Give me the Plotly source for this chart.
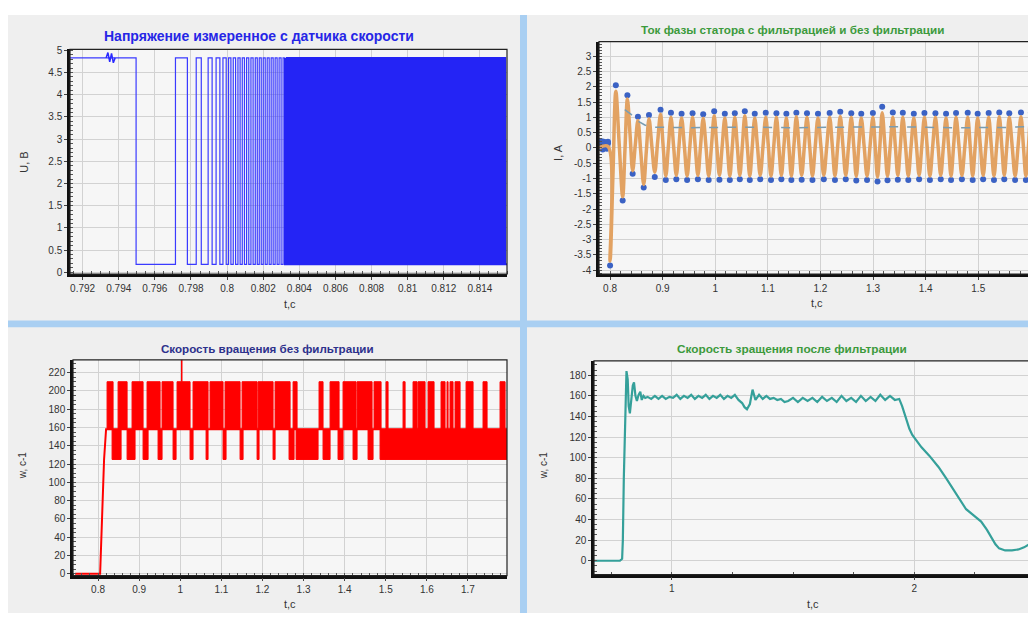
import plotly.graph_objects as go

# The page body has an 8px margin, so the figure is placed at (8, 8) in the window.
OFF = 8
FIG_W, FIG_H = 1036 - OFF, 617 - OFF


def fx(px):
    return (px - OFF) / FIG_W


def fy(py):
    return 1 - (py - OFF) / FIG_H


# ---------------- Panel 1: voltage from speed sensor ----------------
u_high = 4.83
u_low = 0.18
u_t_start = 0.7913
u_t_end = 0.8155
u_dense_from = 0.8032
u_edges = [
    0.79496, 0.79714, 0.79780, 0.79829, 0.79857, 0.79895, 0.79917, 0.79939, 0.79960, 0.79977,
    0.79995, 0.80008, 0.80021, 0.80034, 0.80047, 0.80060, 0.80072, 0.80084, 0.80096, 0.80108,
    0.80120, 0.80132, 0.80144, 0.80156, 0.80167, 0.80178, 0.80189, 0.80200, 0.80211, 0.80222,
    0.80233, 0.80244, 0.80255, 0.80266, 0.80277, 0.80288, 0.80299, 0.80310, 0.80320,
    0.8033, 0.8034, 0.8035, 0.8036, 0.8037, 0.8038, 0.8039,
    0.8040, 0.8041, 0.8042, 0.8043, 0.8044, 0.8045, 0.8046, 0.8047, 0.8048, 0.8049,
    0.8050, 0.8051, 0.8052, 0.8053, 0.8054, 0.8055, 0.8056, 0.8057, 0.8058, 0.8059,
    0.8060, 0.8061, 0.8062, 0.8063, 0.8064, 0.8065, 0.8066, 0.8067, 0.8068, 0.8069,
    0.8070, 0.8071, 0.8072, 0.8073, 0.8074, 0.8075, 0.8076, 0.8077, 0.8078, 0.8079,
    0.8080, 0.8081, 0.8082, 0.8083, 0.8084, 0.8085, 0.8086, 0.8087, 0.8088, 0.8089,
    0.8090, 0.8091, 0.8092, 0.8093, 0.8094, 0.8095, 0.8096, 0.8097, 0.8098, 0.8099,
    0.8100, 0.8101, 0.8102, 0.8103, 0.8104, 0.8105, 0.8106, 0.8107, 0.8108, 0.8109,
    0.8110, 0.8111, 0.8112, 0.8113, 0.8114, 0.8115, 0.8116, 0.8117, 0.8118, 0.8119,
    0.8120, 0.8121, 0.8122, 0.8123, 0.8124, 0.8125, 0.8126, 0.8127, 0.8128, 0.8129,
    0.8130, 0.8131, 0.8132, 0.8133, 0.8134, 0.8135, 0.8136, 0.8137, 0.8138, 0.8139,
    0.8140, 0.8141, 0.8142, 0.8143, 0.8144, 0.8145, 0.8146, 0.8147, 0.8148, 0.8149,
    0.8150, 0.8151, 0.8152, 0.8153, 0.8154,
]
u_blip_t = [0.7933, 0.7934, 0.7935, 0.7936, 0.7937, 0.7938]
u_blip_v = [4.83, 4.95, 4.74, 4.93, 4.72, 4.83]
u_xticks = [0.792, 0.794, 0.796, 0.798, 0.800, 0.802, 0.804, 0.806, 0.808, 0.810, 0.812, 0.814]
u_xtext = ["0.792", "0.794", "0.796", "0.798", "0.8", "0.802", "0.804", "0.806", "0.808", "0.81", "0.812", "0.814"]
u_yticks = [0, 0.5, 1, 1.5, 2, 2.5, 3, 3.5, 4, 4.5, 5]
u_ytext = ["0", "0.5", "1", "1.5", "2", "2.5", "3", "3.5", "4", "4.5", "5"]

# ---------------- Panel 2: stator phase current ----------------
# peaks / troughs
i_ext_t = [
    0.779, 0.796, 0.800, 0.811, 0.824, 0.833, 0.843, 0.853, 0.864, 0.874,
    0.885, 0.896, 0.906, 0.9158, 0.926, 0.936, 0.9465, 0.9569, 0.967, 0.9771,
    0.9875, 0.998, 1.008, 1.0182, 1.0277, 1.0372, 1.0467, 1.0562, 1.0657, 1.0751,
    1.0855, 1.096, 1.106, 1.1163, 1.1257, 1.1352, 1.1447, 1.1542, 1.1643, 1.1744,
    1.1848, 1.1953, 1.2064, 1.2175, 1.2276, 1.2377, 1.2481, 1.2586, 1.2681, 1.2776,
    1.2886, 1.2997, 1.3085, 1.3174, 1.3275, 1.3376, 1.3471, 1.3566, 1.367, 1.3775,
    1.3876, 1.3977, 1.4081, 1.4186, 1.4287, 1.4388, 1.4483, 1.4578, 1.4689, 1.48,
    1.4894, 1.4989, 1.5093, 1.5198, 1.5299, 1.54, 1.5495, 1.559, 1.5701, 1.5812,
    1.5906, 1.6001, 1.606,
]
i_filtered = [
    0.0, 0.05, -3.7, 1.85, -1.6, 1.6, -0.75, 0.9, -1.2, 0.95,
    -0.8, 1.1, -0.92, 1.0, -0.9, 0.98, -0.92, 1.0, -0.9, 0.97,
    -0.92, 1.05, -0.9, 0.98, -0.92, 1.0, -0.9, 1.05, -0.92, 0.98,
    -0.9, 1.0, -0.92, 1.0, -0.9, 0.98, -0.92, 1.02, -0.9, 1.0,
    -0.92, 0.98, -0.9, 1.0, -0.92, 1.03, -0.9, 1.0, -0.93, 0.98,
    -0.92, 1.0, -0.95, 1.15, -0.92, 1.0, -0.9, 1.0, -0.92, 0.98,
    -0.9, 1.0, -0.92, 1.0, -0.9, 0.98, -0.92, 1.0, -0.9, 1.0,
    -0.92, 0.98, -0.9, 1.0, -0.92, 1.02, -0.9, 1.0, -0.92, 1.02,
    -0.92, 1.02, 0.3,
]
i_raw = [
    0.1, 0.15, -3.85, 2.05, -1.72, 1.72, -0.85, 1.02, -1.3, 1.08,
    -0.95, 1.25, -1.05, 1.15, -1.03, 1.12, -1.05, 1.13, -1.03, 1.1,
    -1.05, 1.2, -1.04, 1.12, -1.05, 1.13, -1.03, 1.2, -1.05, 1.12,
    -1.03, 1.15, -1.05, 1.13, -1.03, 1.12, -1.05, 1.15, -1.04, 1.13,
    -1.05, 1.12, -1.03, 1.14, -1.05, 1.18, -1.03, 1.13, -1.07, 1.12,
    -1.05, 1.14, -1.1, 1.35, -1.06, 1.16, -1.04, 1.15, -1.05, 1.12,
    -1.03, 1.14, -1.05, 1.13, -1.03, 1.12, -1.05, 1.14, -1.03, 1.15,
    -1.05, 1.12, -1.03, 1.14, -1.05, 1.16, -1.03, 1.13, -1.05, 1.16,
    -1.05, 1.16, 0.35,
]
# mid-swing crossings of the filtered current
i_cross_t = [
    0.8055, 0.8175, 0.8285, 0.838, 0.848, 0.8585, 0.869, 0.8795, 0.8905, 0.901,
    0.9109, 0.9209, 0.931, 0.9413, 0.9517, 0.962, 0.972, 0.9823, 0.9928, 1.003,
    1.0131, 1.023, 1.0325, 1.042, 1.0515, 1.061, 1.0704, 1.0803, 1.0908, 1.101,
    1.1112, 1.121, 1.1305, 1.14, 1.1495, 1.1593, 1.1694, 1.1796, 1.1901, 1.2009,
    1.212, 1.2226, 1.2327, 1.2429, 1.2534, 1.2634, 1.2729, 1.2831, 1.2942, 1.3041,
    1.313, 1.3225, 1.3326, 1.3424, 1.3519, 1.3618, 1.3723, 1.3826, 1.3927, 1.4029,
    1.4134, 1.4237, 1.4338, 1.4436, 1.4531, 1.4634, 1.4745, 1.4847, 1.4942, 1.5041,
    1.5146, 1.5249, 1.535, 1.5448, 1.5543, 1.5646, 1.5757, 1.5859, 1.5954,
]
i_cross_v = [
    -0.9, 0.1, 0.0, 0.45, 0.1, -0.15, -0.1, 0.05, 0.2, 0.05,
    0.05, 0.04, 0.05, 0.05, 0.04, 0.05, 0.05, 0.06, 0.05, 0.05,
    0.04, 0.05, 0.05, 0.05, 0.06, 0.05, 0.04, 0.05, 0.05, 0.05,
    0.05, 0.04, 0.05, 0.05, 0.06, 0.05, 0.05, 0.04, 0.05, 0.05,
    0.05, 0.06, 0.05, 0.04, 0.05, 0.05, 0.05, 0.05, 0.04, 0.05,
    0.06, 0.1, 0.05, 0.05, 0.04, 0.05, 0.05, 0.05, 0.06, 0.05,
    0.05, 0.04, 0.05, 0.05, 0.05, 0.06, 0.05, 0.05, 0.04, 0.05,
    0.05, 0.05, 0.06, 0.05, 0.05, 0.04, 0.05, 0.05, 0.05,
]
i_noise_t = [0.780, 0.782, 0.784, 0.786, 0.788, 0.790, 0.792, 0.794, 0.796]
i_noise_v = [0.15, 0.0, 0.22, -0.05, 0.2, 0.02, 0.18, -0.03, 0.2]
i_rms_t = [0.828, 0.840, 0.853, 0.866, 0.880, 0.950, 1.050, 1.150, 1.250, 1.350, 1.450, 1.550, 1.606]
i_rms_v = [1.25, 1.1, 0.88, 0.75, 0.68, 0.66, 0.68, 0.66, 0.68, 0.69, 0.66, 0.67, 0.7]
i_xticks = [0.8, 0.9, 1.0, 1.1, 1.2, 1.3, 1.4, 1.5]
i_xtext = ["0.8", "0.9", "1", "1.1", "1.2", "1.3", "1.4", "1.5"]
i_yticks = [-4, -3.5, -3, -2.5, -2, -1.5, -1, -0.5, 0, 0.5, 1, 1.5, 2, 2.5, 3]
i_ytext = ["-4", "-3.5", "-3", "-2.5", "-2", "-1.5", "-1", "-0.5", "0", "0.5", "1", "1.5", "2", "2.5", "3"]

# ---------------- Panel 3: raw rotation speed ----------------
w_levels = [125, 158, 210]
w_ramp_t = [0.744, 0.805, 0.8146, 0.8195, 1.795]
w_ramp_v = [0, 0, 125, 158, 158]
w_hi_t0 = [0.8219, 0.8487, 0.8827, 0.9192, 0.9557, 0.9922, 1.0311, 1.0725, 1.1090, 1.1504,
           1.1893, 1.2307, 1.2745, 1.3377, 1.3645, 1.3961, 1.4302, 1.4715, 1.5007, 1.5421,
           1.5664, 1.5786, 1.6029, 1.6345, 1.6491, 1.6564, 1.6686, 1.6954, 1.7367, 1.7781]
w_hi_t1 = [0.8365, 0.8706, 0.9095, 0.9509, 0.9825, 1.0238, 1.0676, 1.1041, 1.1455, 1.1869,
           1.2258, 1.2672, 1.2842, 1.3474, 1.3864, 1.4277, 1.4667, 1.4886, 1.5056, 1.5470,
           1.5762, 1.5956, 1.6175, 1.6443, 1.6516, 1.6637, 1.6808, 1.7124, 1.7465, 1.7903]
w_lo_t0 = [0.8341, 0.8706, 0.9095, 0.9460, 0.9825, 1.0238, 1.0628, 1.1041, 1.1455, 1.1869,
           1.2258, 1.2647, 1.2818, 1.3474, 1.3839, 1.4204, 1.4569, 1.4861]
w_lo_t1 = [0.8560, 0.8900, 0.9217, 0.9557, 0.9898, 1.0311, 1.0676, 1.1114, 1.1528, 1.1917,
           1.2307, 1.2769, 1.3353, 1.3645, 1.3961, 1.4302, 1.4691, 1.7951]
w_spike_t = 1.0036
w_spike_top = 240
w_xticks = [0.8, 0.9, 1.0, 1.1, 1.2, 1.3, 1.4, 1.5, 1.6, 1.7]
w_xtext = ["0.8", "0.9", "1", "1.1", "1.2", "1.3", "1.4", "1.5", "1.6", "1.7"]
w_yticks = [0, 20, 40, 60, 80, 100, 120, 140, 160, 180, 200, 220]

# ---------------- Panel 4: filtered rotation speed ----------------
wf_t = [
    0.679, 0.786, 0.795, 0.798, 0.802, 0.807, 0.813, 0.818, 0.822, 0.827,
    0.833, 0.839, 0.844, 0.850, 0.856, 0.863, 0.870, 0.876, 0.883, 0.890,
    0.900, 0.915, 0.930, 0.945, 0.960, 0.975, 0.990, 1.005, 1.020, 1.035,
    1.050, 1.065, 1.080, 1.095, 1.110, 1.125, 1.140, 1.155, 1.170, 1.185,
    1.200, 1.215, 1.230, 1.245, 1.260, 1.275, 1.290, 1.300, 1.310, 1.322,
    1.333, 1.345, 1.360, 1.375, 1.390, 1.405, 1.420, 1.435, 1.450, 1.465,
    1.480, 1.500, 1.520, 1.540, 1.560, 1.580, 1.600, 1.620, 1.640, 1.660,
    1.680, 1.700, 1.720, 1.740, 1.760, 1.780, 1.800, 1.820, 1.840, 1.860,
    1.880, 1.900, 1.920, 1.938, 1.950, 1.966, 1.980, 1.992, 2.030, 2.062,
    2.100, 2.132, 2.170, 2.214, 2.245, 2.276, 2.300, 2.317, 2.335, 2.350,
    2.375, 2.403, 2.430, 2.453, 2.475, 2.498,
]
wf_v = [
    0, 0, 2, 20, 80, 130, 184, 176, 150, 143,
    158, 170, 173, 160, 155, 161, 164, 156, 160, 158,
    159, 157, 160, 157, 160, 157, 159, 158, 161, 157,
    160, 158, 161, 157, 160, 158, 161, 157, 160, 158,
    161, 157, 160, 158, 161, 156, 153, 149, 147, 152,
    166, 156, 161, 157, 160, 157, 158, 156, 157, 154,
    155, 158, 154, 158, 155, 158, 154, 159, 155, 158,
    154, 160, 155, 158, 154, 160, 155, 159, 155, 161,
    156, 160, 156, 157, 150, 138, 128, 122, 110, 102,
    91, 80, 66, 50, 44, 38, 30, 23, 16, 12,
    10, 10, 11, 13, 16, 20,
]
wf_xticks = [1, 2]
wf_yticks = [0, 20, 40, 60, 80, 100, 120, 140, 160, 180]

# ---------------- figure ----------------
fig = go.Figure()

# Panel 1 traces: square wave built from the switching times
ux, uy = [u_t_start], [u_high]
lvl = u_high
for e in u_edges:
    nxt = u_low if lvl == u_high else u_high
    ux += [e, e]
    uy += [lvl, nxt]
    lvl = nxt
ux.append(u_t_end)
uy.append(lvl)
split = next(i for i, x in enumerate(ux) if x >= u_dense_from)
fig.add_trace(go.Scatter(x=ux[:split + 1], y=uy[:split + 1], mode="lines",
                         line=dict(color="#3a3aff", width=1.2),
                         xaxis="x", yaxis="y", hoverinfo="skip"))
fig.add_trace(go.Scatter(x=ux[split:], y=uy[split:], mode="lines",
                         line=dict(color="#2424f5", width=1.9),
                         xaxis="x", yaxis="y", hoverinfo="skip"))
fig.add_trace(go.Scatter(x=u_blip_t, y=u_blip_v, mode="lines", line=dict(color="#2a2aff", width=1.5),
                         xaxis="x", yaxis="y", hoverinfo="skip"))

# Panel 2 traces
fig.add_trace(go.Scatter(x=i_ext_t, y=i_raw, mode="markers",
                         marker=dict(color="#3b62c4", size=6), xaxis="x2", yaxis="y2"))
fig.add_trace(go.Scatter(x=i_noise_t, y=i_noise_v, mode="lines+markers",
                         line=dict(color="#3b62c4", width=3), marker=dict(color="#3b62c4", size=6),
                         xaxis="x2", yaxis="y2"))
filt_pts = sorted(list(zip(i_ext_t, i_filtered)) + list(zip(i_cross_t, i_cross_v)))
fig.add_trace(go.Scatter(x=[p[0] for p in filt_pts], y=[p[1] for p in filt_pts], mode="lines",
                         line=dict(color="#e2a262", width=3.5, shape="spline", smoothing=1.0),
                         xaxis="x2", yaxis="y2"))
fig.add_trace(go.Scatter(x=i_rms_t, y=i_rms_v, mode="lines",
                         line=dict(color="#7a9cb0", width=1.5, dash="dash"),
                         xaxis="x2", yaxis="y2"))

# Panel 3 traces: blocks of rapid switching between speed levels
lo, mid, hi = w_levels
bx, by = [], []
for a, b in zip(w_hi_t0, w_hi_t1):
    bx += [a, a, b, b, a, None]
    by += [mid, hi, hi, mid, mid, None]
for a, b in zip(w_lo_t0, w_lo_t1):
    bx += [a, a, b, b, a, None]
    by += [lo, mid, mid, lo, lo, None]
fig.add_trace(go.Scatter(x=bx, y=by, mode="lines", fill="toself", fillcolor="#ff0000",
                         line=dict(color="#ff0000", width=1), xaxis="x3", yaxis="y3"))
fig.add_trace(go.Scatter(x=w_ramp_t, y=w_ramp_v, mode="lines", line=dict(color="#ff0000", width=2),
                         xaxis="x3", yaxis="y3"))
fig.add_trace(go.Scatter(x=[w_spike_t, w_spike_t], y=[hi, w_spike_top], mode="lines",
                         line=dict(color="#ff0000", width=1.5), xaxis="x3", yaxis="y3"))

# Panel 4 traces
fig.add_trace(go.Scatter(x=wf_t, y=wf_v, mode="lines", line=dict(color="#35a09a", width=2.2),
                         xaxis="x4", yaxis="y4"))

FONT = "Liberation Sans, Arial, sans-serif"
tickfont = dict(family=FONT, size=10, color="#333333")


def xaxis(domain, rng, tv, tt, minor_dtick, minor_tick0, anchor, grid=True):
    return dict(domain=domain, range=rng, anchor=anchor, tickmode="array", tickvals=tv, ticktext=tt,
                showgrid=grid, gridcolor="#d2d2d2", gridwidth=1, zeroline=False,
                showline=True, linecolor="#111111", linewidth=2.5, mirror=False,
                ticks="outside", ticklen=3, tickcolor="#444444", tickfont=tickfont,
                minor=dict(ticks="inside", ticklen=3, tickcolor="#555555", dtick=minor_dtick,
                           tick0=minor_tick0, showgrid=False),
                fixedrange=True)


def yaxis(domain, rng, tv, tt, minor_dtick, anchor):
    return dict(domain=domain, range=rng, anchor=anchor, tickmode="array", tickvals=tv, ticktext=tt,
                showgrid=True, gridcolor="#d2d2d2", gridwidth=1, zeroline=False,
                showline=True, linecolor="#111111", linewidth=2.5, mirror=False,
                ticks="outside", ticklen=3, tickcolor="#444444", tickfont=tickfont,
                minor=dict(ticks="inside", ticklen=3, tickcolor="#555555", dtick=minor_dtick,
                           tick0=0, showgrid=False),
                fixedrange=True)


# plot-area pixel boxes in the window (left, top, right, bottom)
P1 = (70, 45, 507, 273)
P2 = (599, 37, 1034, 273)
P3 = (73, 360, 507, 579)
P4 = (594, 361, 1034, 578)


def dom(box):
    l, t, r, b = box
    return [fx(l), fx(r)], [fy(b), fy(t)]


d1x, d1y = dom(P1)
d2x, d2y = dom(P2)
d3x, d3y = dom(P3)
d4x, d4y = dom(P4)

fig.update_layout(
    xaxis=xaxis(d1x, [u_t_start, u_t_end], u_xticks, u_xtext, 0.0005, 0.792, "y"),
    yaxis=yaxis(d1y, [-0.04, 5.02], u_yticks, u_ytext, 0.1, "x"),
    xaxis2=xaxis(d2x, [0.779, 1.606], i_xticks, i_xtext, 0.02, 0.8, "y2"),
    yaxis2=yaxis(d2y, [-4.13, 3.48], i_yticks, i_ytext, 0.1, "x2"),
    xaxis3=xaxis(d3x, [0.739, 1.795], w_xticks, w_xtext, 0.02, 0.8, "y3"),
    yaxis3=yaxis(d3y, [-2, 234], w_yticks, [str(v) for v in w_yticks], 5, "x3"),
    xaxis4=xaxis(d4x, [0.679, 2.494], wf_xticks, [str(v) for v in wf_xticks], 0.25, 0, "y4"),
    yaxis4=yaxis(d4y, [-13.4, 194], wf_yticks, [str(v) for v in wf_yticks], 5, "x4"),
)

shapes = []
panel_bg = "#efefef"
sep = "#a9cff2"
plot_bg = "#f6f6f6"
shapes.append(dict(type="rect", xref="paper", yref="paper", x0=fx(7), x1=fx(1036), y0=fy(617), y1=fy(10),
                   fillcolor=sep, line=dict(width=0), layer="below"))
panels = [(8, 10, 520, 320), (527, 10, 1036, 320), (8, 327, 520, 617), (527, 327, 1036, 617)]
for (l, t, r, b) in panels:
    shapes.append(dict(type="rect", xref="paper", yref="paper", x0=fx(l), x1=fx(r), y0=fy(b), y1=fy(t),
                       fillcolor=panel_bg, line=dict(width=0), layer="below"))
for box in (P1, P2, P3, P4):
    l, t, r, b = box
    shapes.append(dict(type="rect", xref="paper", yref="paper", x0=fx(l), x1=fx(r), y0=fy(b), y1=fy(t),
                       fillcolor=plot_bg, line=dict(width=0), layer="below"))
for ax in ("", "2", "3", "4"):
    shapes.append(dict(type="rect", xref=f"x{ax} domain", yref=f"y{ax} domain", x0=0, x1=1, y0=0, y1=1,
                       line=dict(color="#222222", width=1.2), fillcolor="rgba(0,0,0,0)", layer="above"))

annotations = []


def ann(text, x, y, size=11, color="#333333", bold=False, angle=0):
    t = f"<b>{text}</b>" if bold else text
    annotations.append(dict(text=t, x=fx(x), y=fy(y), xref="paper", yref="paper", showarrow=False,
                            xanchor="center", yanchor="middle", textangle=angle,
                            font=dict(family=FONT, size=size, color=color)))


ann("Напряжение измеренное с датчика скорости", 259, 31, 14, "#2626e6", True)
ann("Ток фазы статора с фильтрацией и без фильтрации", 792, 25, 11.7, "#3c9a3c", True)
ann("Скорость вращения без фильтрации", 267, 349, 11.6, "#2d318c", True)
ann("Скорость зращения после фильтрации", 792, 349, 11.8, "#3c9a3c", True)

ann("t,c", 290, 303, 11)
ann("t,c", 817, 302, 11)
ann("t,c", 290, 608, 11)
ann("t,c", 813, 608, 11)
ann("U, B", 24, 160, 11, angle=-90)
ann("I, A", 558, 150, 11, angle=-90)
ann("w, c-1", 22, 467, 10, angle=-90)
ann("w, c-1", 543, 467, 10, angle=-90)

fig.update_layout(
    width=FIG_W, height=FIG_H, autosize=False,
    margin=dict(l=0, r=0, t=0, b=0),
    paper_bgcolor="#ffffff", plot_bgcolor="rgba(0,0,0,0)",
    showlegend=False, shapes=shapes, annotations=annotations,
    font=dict(family=FONT),
)

fig.write_html("out.html", config={"displayModeBar": False})
